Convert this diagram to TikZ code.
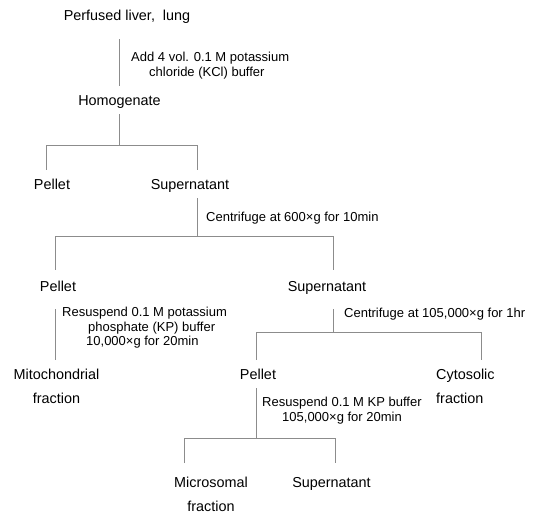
\documentclass[tikz,border=0pt]{standalone}
\usepackage{fontspec}
\setmainfont{Liberation Sans}
\usepackage{tikz}
\definecolor{linegray}{gray}{0.55}
\tikzset{
  stage/.style={font=\fontsize{14.4}{24}\selectfont, text height=10.5pt, text depth=0pt, inner xsep=0pt, inner ysep=8.75pt},
  stagemulti/.style={font=\fontsize{14.4}{24}\selectfont, align=center, inner xsep=0pt, inner ysep=8.75pt, anchor=north},
  cond/.style={font=\fontsize{13}{14.5}\selectfont, align=left, inner sep=0pt, anchor=north west},
  link/.style={draw=linegray, line width=0.8pt}
}
\begin{document}
\begin{tikzpicture}[x=1pt,y=-1pt]
\useasboundingbox (0,0) rectangle (535,516);
\node[stage] (perf) at (127,15) {Perfused liver,~~lung};
\node[stage] (homo) at (119.5,100) {Homogenate};
\node[stage] (pel1) at (52,184) {Pellet};
\node[stage] (sup1) at (190,184) {Supernatant};
\node[stage] (pel2) at (58,286) {Pellet};
\node[stage] (sup2) at (327,286) {Supernatant};
\node[stagemulti] (mito) at (56.5,360) {Mitochondrial\\fraction};
\node[stage] (pel3) at (258,374) {Pellet};
\node[stagemulti, align=left, anchor=north west] (cyto) at (436,360) {Cytosolic\\fraction};
\node[stagemulti] (micro) at (211,468) {Microsomal\\fraction};
\node[stage] (sup3) at (331.5,482) {Supernatant};
\node[cond] (add) at (131,52.3) {Add 4 vol. 0.1 M potassium\\\hspace*{18pt}chloride (KCl) buffer};
\node[cond] (spin1) at (206,212.3) {Centrifuge at 600×g for 10min};
\node[cond] (resus1) at (62,307.3) {Resuspend 0.1 M potassium\\\hspace*{26pt}phosphate (KP) buffer\\\hspace*{24pt}10,000×g for 20min};
\node[cond] (spin2) at (344,308.3) {Centrifuge at 105,000×g for 1hr};
\node[cond] (resus2) at (262,397.3) {Resuspend 0.1 M KP buffer\\\hspace*{20pt}105,000×g for 20min};
\coordinate (b1m) at (119.5,145);
\coordinate (b1l) at (46,145);
\coordinate (b1r) at (197,145);
\coordinate (b2m) at (197,236);
\coordinate (b2l) at (55,236);
\coordinate (b2r) at (333,236);
\coordinate (b3m) at (333,332);
\coordinate (b3l) at (256,332);
\coordinate (b3r) at (481,332);
\coordinate (b4m) at (256,438);
\coordinate (b4l) at (184,438);
\coordinate (b4r) at (335,438);
\draw[link, shorten <=10pt] (perf.south -| homo) -- (homo.north);
\draw[link] (homo.south) -- (b1m);
\draw[link] (b1l |- pel1.north) -- (b1l) -- (b1r) -- (b1r |- sup1.north);
\draw[link] (b1r |- sup1.south) -- (b2m);
\draw[link, shorten <=2pt, shorten >=2pt] (b2l |- pel2.north) -- (b2l) -- (b2r) -- (b2r |- sup2.north);
\draw[link, shorten <=9pt] (b2l |- pel2.south) -- (b2l |- mito.north);
\draw[link, shorten <=9pt] (b2r |- sup2.south) -- (b3m);
\draw[link] (b3l |- pel3.north) -- (b3l) -- (b3r) -- (b3r |- cyto.north);
\draw[link] (b3l |- pel3.south) -- (b4m);
\draw[link, shorten <=5pt, shorten >=5pt] (b4l |- micro.north) -- (b4l) -- (b4r) -- (b4r |- sup3.north);
\end{tikzpicture}
\end{document}
